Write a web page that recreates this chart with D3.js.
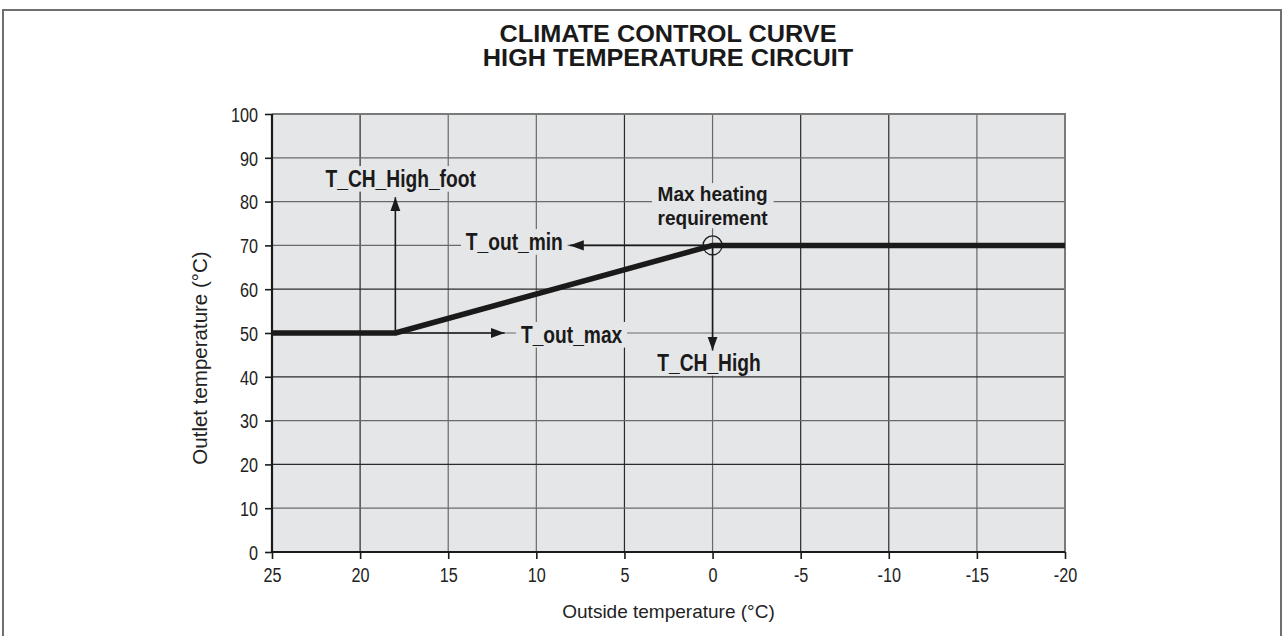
<!DOCTYPE html>
<html>
<head>
<meta charset="utf-8">
<script src="https://cdn.jsdelivr.net/npm/d3@7"></script>
<style>
  html, body { margin: 0; padding: 0; background: #fff; }
  svg { display: block; }
</style>
</head>
<body>
<svg id="chart" width="1282" height="636"></svg>
<script>
// Axis ticks
const xTicks = [25, 20, 15, 10, 5, 0, -5, -10, -15, -20];
const yTicks = [0, 10, 20, 30, 40, 50, 60, 70, 80, 90, 100];

// Climate curve: outside temperature -> outlet temperature
const outsideTemp = [25, 18, 0, -20];
const outletTemp  = [50, 50, 70, 70];

// Grid lines printed darker
const darkX = [20, 5, -5, -10];
const darkY = [60, 40, 20];

// Annotation arrows (data units): from -> to
const arrowFromX = [18, 18, 0, 0];
const arrowFromY = [50, 50, 70, 70];
const arrowToX   = [18, 11.8, 8.1, 0];
const arrowToY   = [81, 50, 70, 46];

// Annotation labels (anchor point of the first line of each label, data units)
const labelLines = [["T_CH_High_foot"], ["T_out_min"], ["T_out_max"], ["T_CH_High"], ["Max heating", "requirement"]];
const labelX     = [17.7, 11.25, 8.0, 0.2, 0];
const labelY     = [83.3, 68.9, 47.7, 41.3, 80.2];

const titleLines = ["CLIMATE CONTROL CURVE", "HIGH TEMPERATURE CIRCUIT"];

const svg = d3.select("#chart");
const W = 1282, H = 636;
const margin = { left: 272, right: 217, top: 114, bottom: 84 };
const plotW = W - margin.left - margin.right;
const plotH = H - margin.top - margin.bottom;

const x = d3.scaleLinear().domain([25, -20]).range([margin.left, margin.left + plotW]);
const y = d3.scaleLinear().domain([0, 100]).range([margin.top + plotH, margin.top]);

const bg = "#e5e6e8";
const sans = "'Liberation Sans', Arial, Helvetica, sans-serif";
const narrow = 0.79;   // horizontal squeeze for the condensed lettering

// Outer frame
svg.append("path")
  .attr("d", `M3,${H} L3,10 L${W - 1},10 L${W - 1},${H}`)
  .attr("fill", "none").attr("stroke", "#6f6f6f").attr("stroke-width", 2);

// Title
svg.append("g").selectAll("text").data(titleLines).join("text")
  .attr("transform", (d, i) => `translate(668,${42 + i * 24}) scale(1.1,1)`)
  .attr("text-anchor", "middle")
  .attr("font-family", sans)
  .attr("font-weight", "bold").attr("font-size", 23)
  .attr("fill", "#1a1a1a")
  .text(d => d);

// Plot background
svg.append("rect")
  .attr("x", x(25)).attr("y", y(100))
  .attr("width", x(-20) - x(25)).attr("height", y(0) - y(100))
  .attr("fill", bg);

// Grid
const grid = svg.append("g");
grid.selectAll(".gx").data(xTicks.filter(d => d !== 25 && d !== -20)).join("line")
  .attr("x1", d => x(d)).attr("x2", d => x(d))
  .attr("y1", y(0)).attr("y2", y(100))
  .attr("stroke", d => darkX.includes(d) ? "#2a2a2a" : "#6a6a6a")
  .attr("stroke-width", 1.2);
grid.selectAll(".gy").data(yTicks.filter(d => d !== 0 && d !== 100)).join("line")
  .attr("x1", x(25)).attr("x2", x(-20))
  .attr("y1", d => y(d)).attr("y2", d => y(d))
  .attr("stroke", d => darkY.includes(d) ? "#2a2a2a" : "#6a6a6a")
  .attr("stroke-width", 1.2);

// Top and right border of plot
svg.append("path")
  .attr("d", `M${x(25)},${y(100)} L${x(-20)},${y(100)} L${x(-20)},${y(0)}`)
  .attr("fill", "none").attr("stroke", "#7a7a7a").attr("stroke-width", 2);

// Axes
const tickFmt = d => String(d);
const xAxis = d3.axisBottom(x).tickValues(xTicks).tickSize(7).tickPadding(8).tickFormat(tickFmt);
const yAxis = d3.axisLeft(y).tickValues(yTicks).tickSize(7).tickPadding(7).tickFormat(tickFmt);

const gx = svg.append("g").attr("transform", `translate(0,${y(0)})`).call(xAxis);
const gy = svg.append("g").attr("transform", `translate(${x(25)},0)`).call(yAxis);
[gx, gy].forEach(g => {
  g.select(".domain").attr("stroke", "#1a1a1a").attr("stroke-width", 2.2);
  g.selectAll(".tick line").attr("stroke", "#1a1a1a").attr("stroke-width", 1.6);
  g.selectAll(".tick text")
    .attr("font-family", sans).attr("font-size", 20.5).attr("fill", "#222");
});
gx.select(".domain").attr("d", `M${x(25)},0H${x(-20)}`);
gy.select(".domain").attr("d", `M0,${y(0)}V${y(100)}`);
gx.selectAll(".tick text").attr("dy", "0.72em").attr("transform", `scale(${narrow},1)`);
gy.selectAll(".tick text").attr("dy", "0.36em")
  .attr("x", -14 / narrow).attr("transform", `scale(${narrow},1)`);

// Axis titles
svg.append("text")
  .attr("x", x(2.5)).attr("y", 618)
  .attr("text-anchor", "middle")
  .attr("font-family", sans)
  .attr("font-size", 19).attr("fill", "#222")
  .text("Outside temperature (°C)");
svg.append("text")
  .attr("transform", `translate(207,358) rotate(-90)`)
  .attr("text-anchor", "middle")
  .attr("font-family", sans)
  .attr("font-size", 20.5).attr("fill", "#222")
  .text("Outlet temperature (°C)");

// Labels: condensed bold text on a plot-coloured box that interrupts the grid
const labels = svg.append("g");
labelLines.forEach((lines, i) => {
  const multi = lines.length > 1;
  const size = multi ? 20.5 : 24;
  const sx = multi ? 0.93 : 0.8;
  const lead = 24.5;
  const g = labels.append("g")
    .attr("transform", `translate(${x(labelX[i])},${y(labelY[i])}) scale(${sx},1)`);
  const t = g.append("text")
    .attr("text-anchor", "middle")
    .attr("font-family", sans).attr("font-weight", "bold")
    .attr("font-size", size).attr("fill", "#1a1a1a");
  t.selectAll("tspan").data(lines).join("tspan")
    .attr("x", 0).attr("y", (d, j) => j * lead)
    .text(d => d);
  const b = t.node().getBBox();
  g.insert("rect", "text")
    .attr("x", b.x - 6).attr("y", b.y + 1)
    .attr("width", b.width + 12).attr("height", b.height - 2)
    .attr("fill", bg);
});

// Arrow marker
svg.append("defs").append("marker")
  .attr("id", "arrowhead")
  .attr("viewBox", "0 0 10 10")
  .attr("refX", 10).attr("refY", 5)
  .attr("markerWidth", 14).attr("markerHeight", 14)
  .attr("markerUnits", "userSpaceOnUse")
  .attr("orient", "auto")
  .append("path").attr("d", "M0,1.4 L10,5 L0,8.6 Z").attr("fill", "#1a1a1a");

// Curve
const curve = d3.line().x(d => x(d[0])).y(d => y(d[1]));
svg.append("path")
  .datum(outsideTemp.map((t, i) => [t, outletTemp[i]]))
  .attr("d", curve)
  .attr("fill", "none").attr("stroke", "#1a1a1a")
  .attr("stroke-width", 5.5).attr("stroke-linejoin", "round");

// Arrows
svg.append("g").selectAll("line").data(arrowFromX).join("line")
  .attr("x1", (d, i) => x(arrowFromX[i])).attr("y1", (d, i) => y(arrowFromY[i]))
  .attr("x2", (d, i) => x(arrowToX[i])).attr("y2", (d, i) => y(arrowToY[i]))
  .attr("stroke", "#1a1a1a").attr("stroke-width", 1.6)
  .attr("marker-end", "url(#arrowhead)");

// Max heating requirement point
svg.append("circle")
  .attr("cx", x(0)).attr("cy", y(70)).attr("r", 9.5)
  .attr("fill", "none").attr("stroke", "#1a1a1a").attr("stroke-width", 1.3);
</script>
</body>
</html>
